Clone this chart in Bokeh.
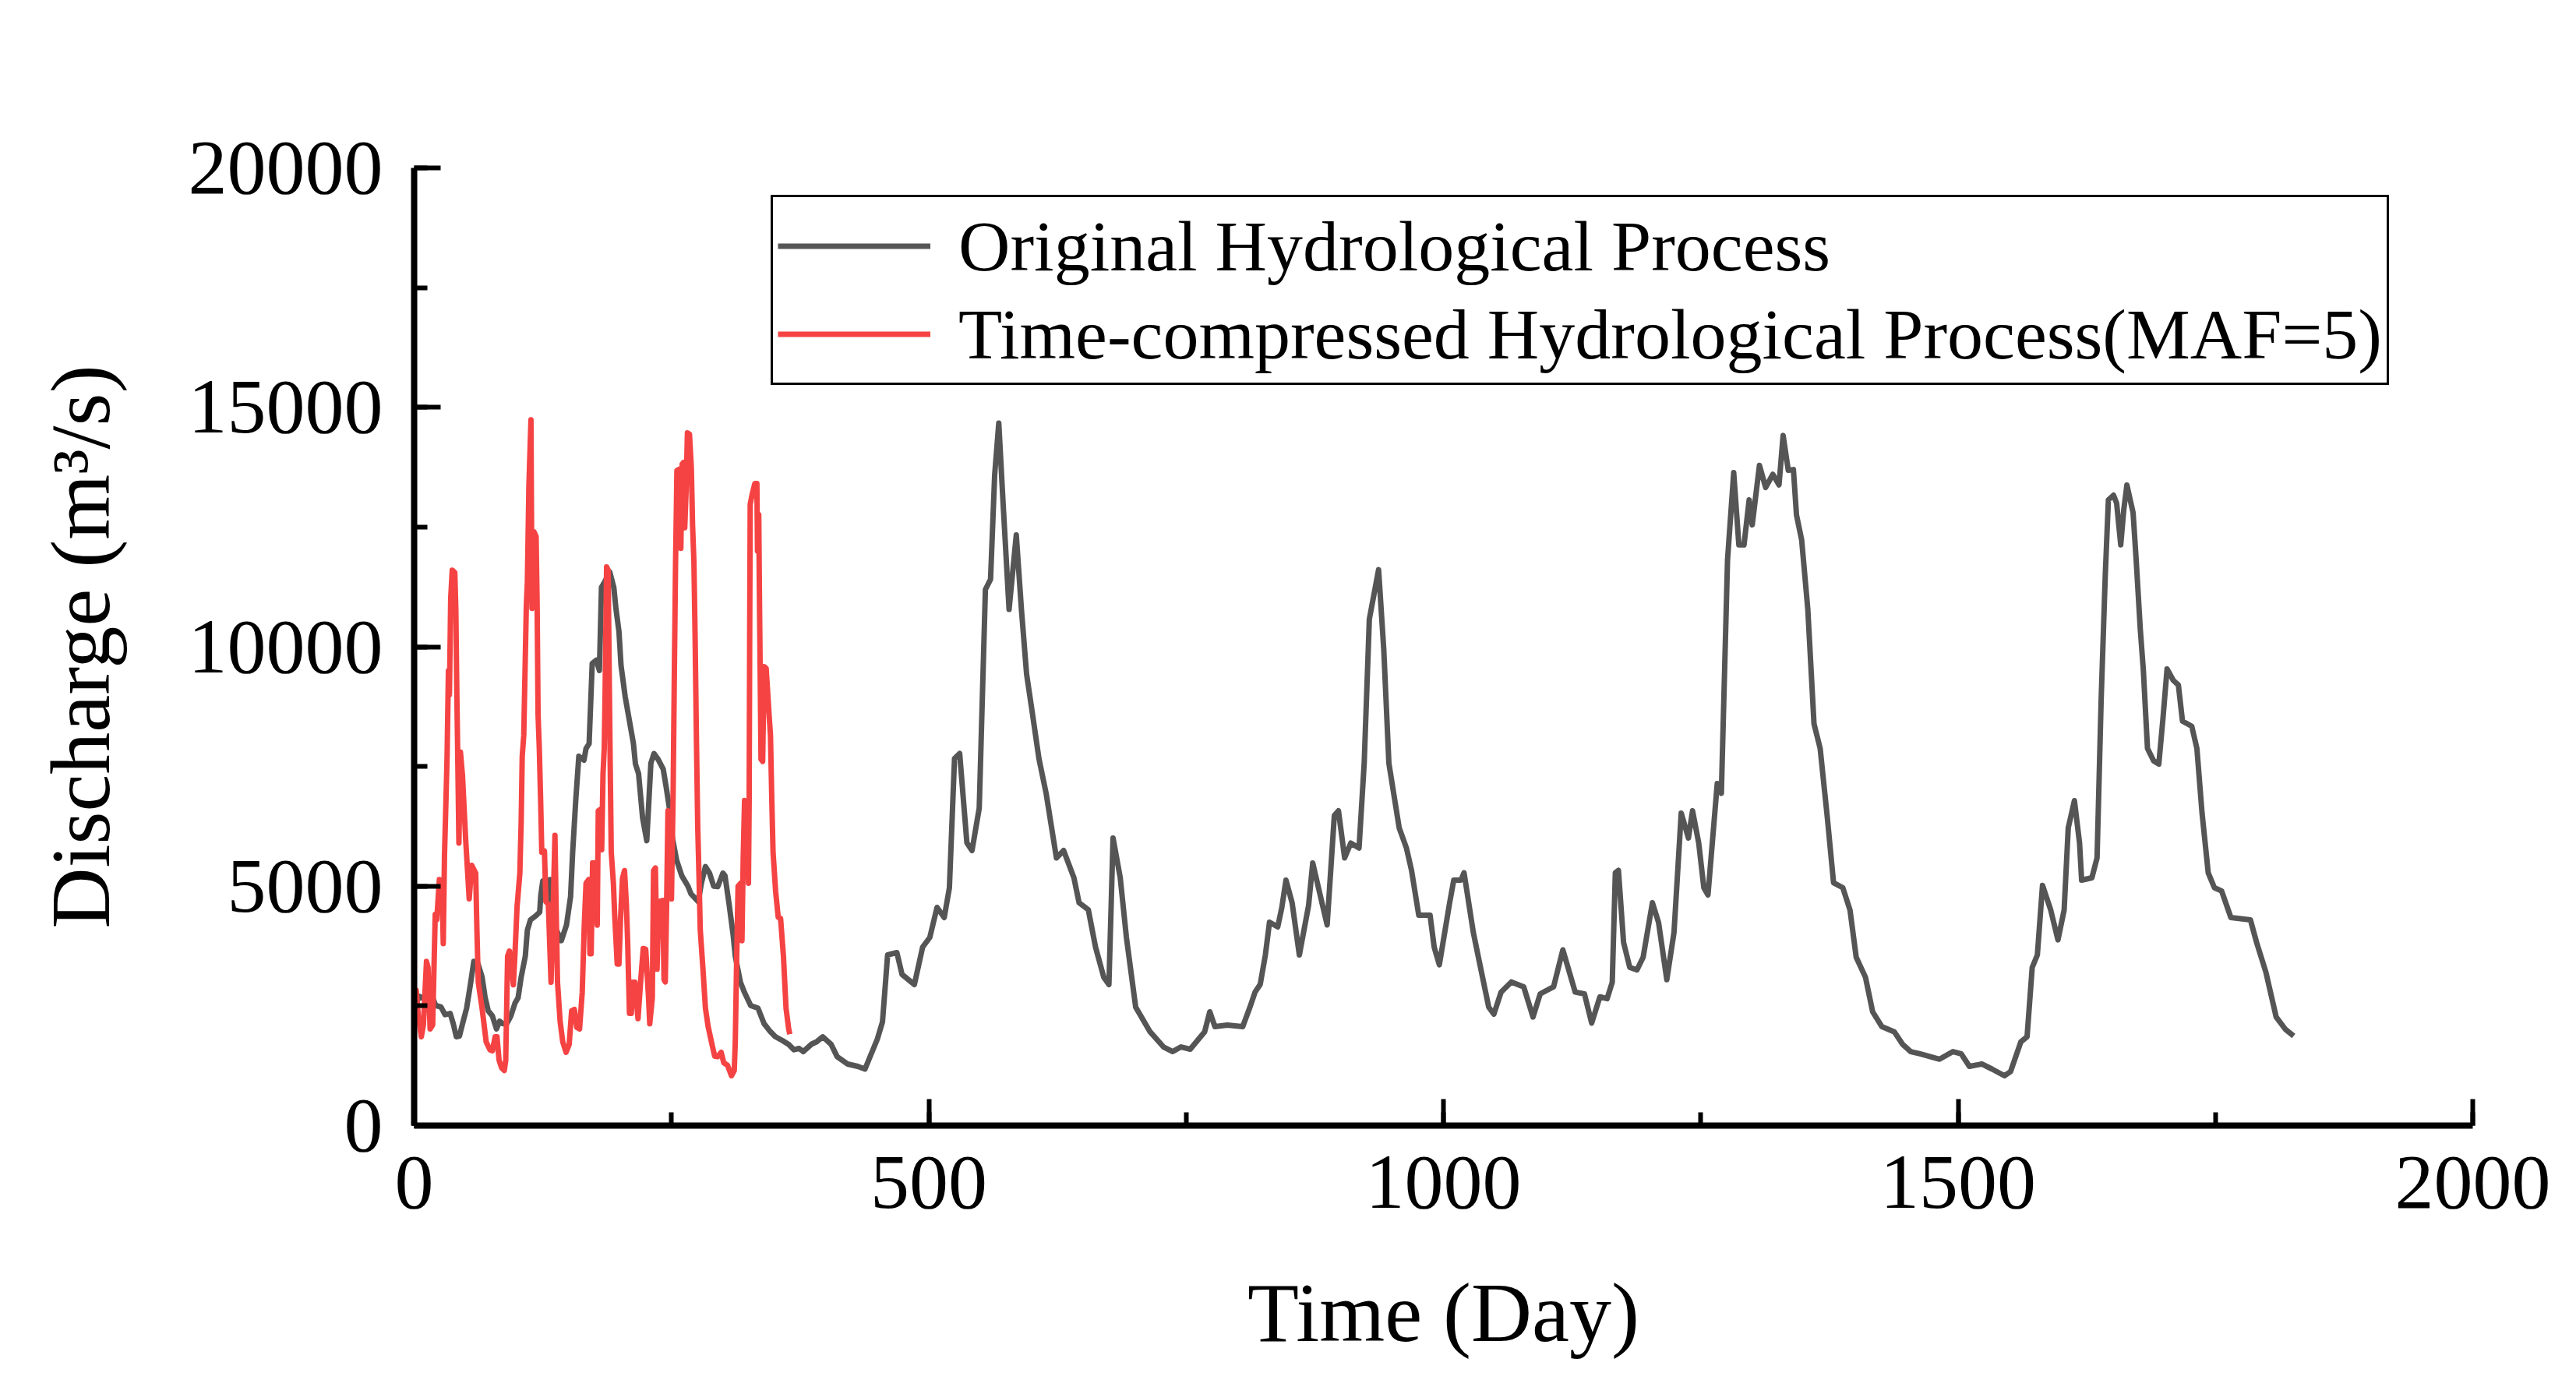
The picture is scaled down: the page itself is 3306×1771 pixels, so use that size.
from bokeh.plotting import figure
from bokeh.models import Range1d, SingleIntervalTicker, Legend, LegendItem
from bokeh.embed import file_html
from bokeh.resources import INLINE

# ---- data ----
orig_day = [1, 5, 10, 16, 21, 26, 30, 35, 38, 41, 44, 47, 51, 55, 58, 62, 66, 69, 72, 76, 80, 83, 86, 90, 94, 98,
            101, 104, 108, 110, 113, 118, 122, 123, 125, 132, 133, 136, 143, 148, 152, 154, 157, 160, 165, 167, 170,
            173, 177, 180, 182, 185, 190, 194, 196, 199, 201, 205, 209, 213, 215, 218, 222, 226, 230, 233, 237, 242,
            245, 248, 251, 255, 260, 266, 269, 276, 279, 283, 287, 291, 295, 300, 302, 306, 310, 312, 317, 321, 327,
            334, 340, 346, 351, 358, 364, 369, 374, 378, 386, 391, 397, 405, 411, 421, 431, 438, 450, 455, 460, 469,
            474, 486, 494, 501, 508, 515, 520, 525, 530, 537, 542, 549, 555, 560, 564, 568, 572, 578, 585, 590, 595,
            600, 607, 614, 624, 631, 641, 646, 655, 662, 670, 675, 679, 686, 692, 701, 715, 728, 737, 745, 754, 764,
            768, 773, 778, 790, 805, 812, 817, 822, 827, 831, 839, 843, 847, 853, 860, 869, 873, 882, 887, 894, 898,
            904, 910, 918, 923, 928, 937, 942, 947, 957, 964, 969, 976, 987, 991, 996, 1006, 1010, 1017, 1020, 1029,
            1036, 1044, 1049, 1056, 1066, 1078, 1087, 1094, 1107, 1116, 1128, 1137, 1144, 1152, 1159, 1164, 1167,
            1170, 1175, 1181, 1188, 1194, 1203, 1209, 1217, 1224, 1231, 1238, 1242, 1248, 1253, 1257, 1266, 1270,
            1276, 1282, 1287, 1292, 1297, 1300, 1307, 1313, 1320, 1326, 1330, 1335, 1340, 1343, 1348, 1354, 1360,
            1366, 1373, 1379, 1388, 1395, 1401, 1410, 1417, 1426, 1438, 1446, 1454, 1463, 1482, 1495, 1503, 1511,
            1523, 1533, 1545, 1551, 1561, 1567, 1572, 1577, 1582, 1590, 1597, 1603, 1607, 1613, 1618, 1620, 1630,
            1635, 1639, 1643, 1646, 1651, 1654, 1658, 1661, 1664, 1670, 1673, 1677, 1680, 1684, 1690, 1695, 1699,
            1703, 1709, 1714, 1718, 1727, 1732, 1737, 1743, 1749, 1756, 1765, 1784, 1790, 1799, 1809, 1818, 1826]
orig_q = [2500, 2700, 2650, 2780, 2506, 2479, 2316, 2343, 2127, 1855, 1870, 2127, 2452, 2994, 3429, 3380, 3103, 2670,
          2397, 2290, 2018, 2180, 2127, 2130, 2290, 2560, 2670, 3103, 3537, 4080, 4296, 4378, 4459, 4800, 5110, 5137,
          4676, 4187, 3862, 4187, 4784, 5707, 6790, 7714, 7632, 7876, 7977, 9650, 9720, 9504, 11240, 11350, 11565,
          11240, 10806, 10317, 9612, 8962, 8474, 7985, 7551, 7355, 6420, 5950, 7567, 7770, 7650, 7442, 7050, 6628,
          6000, 5544, 5218, 5000, 4838, 4676, 5056, 5408, 5272, 5000, 4990, 5272, 5218, 4622, 3970, 3537, 2994, 2777,
          2506, 2452, 2127, 1964, 1855, 1774, 1692, 1583, 1611, 1545, 1700, 1750, 1855, 1700, 1438, 1286, 1237, 1180,
          1806, 2164, 3564, 3613, 3157, 2945, 3727, 3930, 4557, 4345, 4963, 7665, 7770, 5907, 5744, 6628, 11196,
          11408, 13588, 14670, 13067, 10780, 12335, 10780, 9431, 8706, 7665, 6939, 5590, 5745, 5175, 4654, 4508, 3727,
          3098, 2945, 6005, 5175, 3928, 2473, 1958, 1643, 1545, 1643, 1594, 1855, 1958, 2376, 2066, 2100, 2066, 2473,
          2788, 2950, 3564, 4247, 4150, 4557, 5126, 4650, 3564, 4600, 5484, 4650, 4190, 6477, 6574, 5590, 5900, 5797,
          7567, 10577, 11609, 9950, 7567, 6216, 5800, 5330, 4393, 4393, 3727, 3359, 4650, 5126, 5126, 5280, 4036,
          3303, 2473, 2327, 2788, 3000, 2896, 2268, 2750, 2900, 3670, 2788, 2750, 2140, 2690, 2650, 2994, 5280, 5330,
          3824, 3303, 3250, 3515, 4654, 4240, 3048, 4036, 6526, 6005, 6574, 5900, 4967, 4817, 7144, 6939, 11815,
          13637, 12128, 12128, 13067, 12547, 13788, 13327, 13600, 13380, 14412, 13685, 13700, 12750, 12233, 10780,
          8392, 7876, 6420, 5070, 4967, 4500, 3515, 3098, 2376, 2066, 1958, 1700, 1545, 1500, 1386, 1545, 1500, 1237,
          1286, 1180, 1041, 1128, 1750, 1855, 3303, 3564, 5018, 4500, 3878, 4500, 6216, 6786, 5900, 5126, 5175, 5590,
          8911, 11505, 13067, 13165, 13000, 12128, 12870, 13376, 12800, 11815, 10366, 9500, 7876, 7616, 7550, 8495,
          9536, 9300, 9200, 8446, 8340, 7876, 6526, 5280, 4967, 4900, 4345, 4296, 3824, 3206, 2268, 2010, 1871]

comp_day = [0.5, 2, 4, 7, 9, 12, 13.5, 15.5, 18, 20.5, 22, 24.5, 27, 28.3, 29.5, 31, 32, 33.3, 34.3, 35.5, 37, 39.5,
            40.5, 41.5, 42.5, 43.5, 45, 47, 50, 53.5, 56, 59.8, 61, 62.3, 66, 70, 73.7, 76, 78.7, 80.5, 82.5, 85, 87.6,
            89, 90.8, 92.6, 94.5, 96.4, 98, 100, 102.7, 104, 105, 106.5, 109, 110, 111.5, 113.5, 114.5, 116.5, 118.5,
            119.5, 120.4, 121.6, 122.9, 124, 126.6, 128, 130.4, 133, 135, 136.8, 138, 139.3, 141.8, 144.4, 147.6,
            150.6, 153, 155.7, 158, 160.7, 163.3, 165.3, 167, 169.6, 170.8, 172, 173.4, 176, 177.9, 178.9, 180.5,
            182.2, 183.5, 184.7, 185.5, 187, 188.5, 189.5, 190.5, 191.5, 193.6, 194.8, 197.3, 199, 200.6, 202.4,
            204.4, 206.2, 207.4, 209.2, 211, 212.5, 214.5, 217.5, 220, 222.6, 225, 227.6, 228.9, 231.4, 232.6, 234.4,
            236, 237.7, 241.5, 242.8, 244, 245.3, 246.6, 248, 250, 251.6, 252.8, 254, 255.3, 257.4, 259.1, 260.4,
            261.7, 262.9, 264.2, 265.5, 267.5, 269.3, 270.5, 271.8, 273, 274.3, 275.5, 276.8, 278, 280.6, 283, 285.6,
            289.4, 292, 295, 298.3, 300.8, 304.5, 308.3, 311, 312, 313.4, 314.7, 317.2, 318.5, 319.7, 321, 323.5,
            324.8, 325.5, 326, 326.5, 328.5, 331, 333, 333.6, 334.8, 335.5, 337, 338.6, 340, 342, 345, 346.2, 347.5,
            348.7, 351.2, 353.7, 356, 358.8, 361.3, 363.9, 365]
comp_q = [2780, 2830, 2300, 1855, 2100, 3430, 3300, 2018, 2100, 4410, 4300, 5140, 5100, 3800, 5650, 6850, 7710, 9500,
          9000, 11000, 11600, 11550, 10800, 9000, 7500, 5900, 7800, 7300, 6000, 4734, 5435, 5270, 4080, 2994, 2450,
          1746, 1583, 1560, 1855, 1855, 1367, 1204, 1150, 1367, 3537, 3645, 3300, 2940, 3600, 4570, 5270, 6360, 7710,
          8150, 10860, 11350, 13360, 14740, 10800, 12400, 12300, 10860, 8580, 7876, 6790, 5710, 5733, 4676, 4622,
          2994, 4500, 6060, 4500, 2994, 2180, 1746, 1530, 1692, 2397, 2425, 2050, 2018, 2780, 4187, 5060, 5140, 3590,
          3590, 5490, 5480, 4187, 6574, 6600, 5760, 7335, 7876, 9000, 11670, 11600, 9500, 7500, 5710, 5060, 4410,
          3374, 3374, 4350, 5163, 5326, 4622, 3862, 2343, 2343, 2994, 2994, 2234, 2994, 3700, 3680, 2723, 2126, 2670,
          5326, 5380, 3266, 4676, 4703, 3050, 3000, 4622, 6574, 6500, 4734, 6900, 9450, 11782, 13681, 13707, 12054,
          13816, 13848, 12487, 13246, 14467, 14440, 13735, 12541, 11782, 10154, 8000, 6250, 5163, 4080, 3266, 2452,
          2072, 1692, 1448, 1440, 1530, 1313, 1258, 1041, 1150, 1746, 3537, 5000, 5060, 3862, 5598, 6790, 6737, 5060,
          6790, 10264, 12975, 13193, 13409, 13409, 12000, 12758, 11000, 7650, 7605, 9585, 9550, 8527, 8148, 6790,
          5707, 4893, 4350, 4330, 3537, 2452, 2018, 1909]

label_orig = "Original Hydrological Process"
label_comp = "Time-compressed Hydrological Process(MAF=5)"
x_label = "Time (Day)"
y_label = "Discharge (m³/s)"

FONT = "Liberation Serif"
GRAY = "#555555"
RED = "#F54343"

p = figure(width=3306, height=1771, output_backend="svg", toolbar_location=None,
           x_range=Range1d(0, 2000), y_range=Range1d(0, 20000),
           min_border_left=531, min_border_right=133, min_border_top=215, min_border_bottom=327)
p.outline_line_color = None
p.grid.visible = False
p.background_fill_color = "white"
p.border_fill_color = "white"

r1 = p.line(orig_day, orig_q, line_color=GRAY, line_width=7, line_join="round")
r2 = p.line(comp_day, comp_q, line_color=RED, line_width=7, line_join="round")

p.xaxis.ticker = SingleIntervalTicker(interval=500, num_minor_ticks=2)
p.yaxis.ticker = SingleIntervalTicker(interval=5000, num_minor_ticks=2)

for ax in (p.xaxis[0], p.yaxis[0]):
    ax.axis_line_width = 8
    ax.axis_line_color = "black"
    ax.major_tick_line_width = 6
    ax.minor_tick_line_width = 6
    ax.major_tick_in = 34
    ax.major_tick_out = 0
    ax.minor_tick_in = 17
    ax.minor_tick_out = 0
    ax.major_label_text_font = FONT
    ax.major_label_text_font_size = "100px"
    ax.major_label_text_color = "black"
    ax.axis_label_text_font = FONT
    ax.axis_label_text_font_size = "108px"
    ax.axis_label_text_font_style = "normal"
    ax.axis_label_text_color = "black"

p.xaxis.axis_label = x_label
p.yaxis.axis_label = y_label
p.xaxis.major_label_standoff = 40
p.xaxis.axis_label_standoff = 72
p.yaxis.major_label_standoff = 40
p.yaxis.axis_label_standoff = 76

legend = Legend(items=[LegendItem(label=label_orig, renderers=[r1]),
                       LegendItem(label=label_comp, renderers=[r2])],
                location=(458, 950))
legend.label_text_font = FONT
legend.label_text_font_size = "92px"
legend.label_text_color = "black"
legend.glyph_width = 196
legend.glyph_height = 113
legend.label_height = 113
legend.label_standoff = 36
legend.spacing = 0
legend.padding = 6
legend.margin = 0
legend.border_line_color = "black"
legend.border_line_alpha = 1
legend.border_line_width = 3
legend.background_fill_color = "white"
legend.background_fill_alpha = 1
p.add_layout(legend)

open("out.html", "w").write(file_html(p, INLINE))
